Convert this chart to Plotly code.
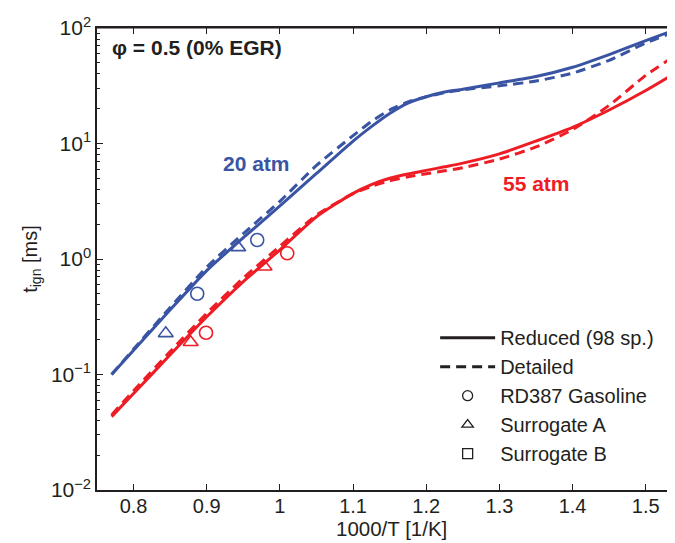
import plotly.graph_objects as go

# 1000/T grid for the model curves
x_grid = [0.77, 0.80, 0.85, 0.90, 0.95, 1.00, 1.05, 1.10, 1.125, 1.15,
          1.175, 1.20, 1.225, 1.25, 1.30, 1.35, 1.40, 1.45, 1.50, 1.54]

# t_ign [ms]
blue_reduced = [0.100, 0.162, 0.363, 0.794, 1.53, 2.88, 5.50, 10.5, 14.0, 18.2,
                22.4, 25.4, 27.9, 29.5, 33.5, 38.0, 45.7, 58.9, 77.6, 96.6]
blue_detailed = [0.100, 0.166, 0.380, 0.851, 1.66, 3.16, 6.46, 11.7, 15.5, 19.5,
                 22.9, 25.4, 27.5, 29.2, 31.6, 34.7, 40.7, 52.5, 74.1, 93.3]
red_reduced = [0.0432, 0.0684, 0.148, 0.316, 0.638, 1.20, 2.32, 3.70, 4.40, 5.00,
               5.45, 5.85, 6.28, 6.76, 8.13, 10.5, 13.8, 19.5, 28.8, 40.7]
red_detailed = [0.0447, 0.0724, 0.158, 0.339, 0.684, 1.29, 2.40, 3.68, 4.25, 4.75,
                5.15, 5.48, 5.80, 6.17, 7.33, 9.33, 13.2, 21.4, 38.9, 57.5]

# experiments
blue_circ_x = [0.887, 0.969]
blue_circ_y = [0.50, 1.46]
blue_tri_x = [0.844, 0.943]
blue_tri_y = [0.227, 1.26]
red_circ_x = [0.899, 1.010]
red_circ_y = [0.23, 1.12]
red_tri_x = [0.878, 0.979]
red_tri_y = [0.19, 0.857]

legend_names = ["Reduced (98 sp.)", "Detailed", "RD387 Gasoline", "Surrogate A", "Surrogate B"]

BLUE = "#3a54a4"
RED = "#ee1d25"
INK = "#231f20"
DASH = "10px,6px"

fig = go.Figure()

for yv, col, dash in [(blue_reduced, BLUE, "solid"), (blue_detailed, BLUE, DASH),
                      (red_reduced, RED, "solid"), (red_detailed, RED, DASH)]:
    fig.add_trace(go.Scatter(x=x_grid, y=yv, mode="lines", showlegend=False,
                             line=dict(color=col, width=3, dash=dash,
                                       shape="spline", smoothing=0.6)))

for xs, ys, col, sym in [(blue_circ_x, blue_circ_y, BLUE, "circle-open"),
                         (blue_tri_x, blue_tri_y, BLUE, "triangle-up-open"),
                         (red_circ_x, red_circ_y, RED, "circle-open"),
                         (red_tri_x, red_tri_y, RED, "triangle-up-open")]:
    fig.add_trace(go.Scatter(x=xs, y=ys, mode="markers", showlegend=False,
                             marker=dict(symbol=sym, size=13, color=col,
                                         line=dict(color=col, width=1.6))))

# legend entries (black)
fig.add_trace(go.Scatter(x=[None], y=[None], mode="lines", name=legend_names[0],
                         line=dict(color=INK, width=3)))
fig.add_trace(go.Scatter(x=[None], y=[None], mode="lines", name=legend_names[1],
                         line=dict(color=INK, width=3, dash=DASH)))
for nm, sym in zip(legend_names[2:], ["circle-open", "triangle-up-open", "square-open"]):
    fig.add_trace(go.Scatter(x=[None], y=[None], mode="markers", name=nm,
                             marker=dict(symbol=sym, size=10, color=INK,
                                         line=dict(color=INK, width=1.3))))

yt = [-2, -1, 0, 1, 2]
# page body has an 8px margin, so the figure is 8px smaller and shifted
fig.update_layout(
    width=667, height=535,
    margin=dict(l=89, r=0, t=20, b=53),
    paper_bgcolor="white", plot_bgcolor="white",
    font=dict(family="Liberation Sans, Arial", size=20, color=INK),
    showlegend=True,
    legend=dict(x=0.585, y=0.372, xanchor="left", yanchor="top",
                bgcolor="rgba(0,0,0,0)", font=dict(size=20),
                itemwidth=55, tracegroupgap=0),
    xaxis=dict(range=[0.75, 1.54], tickvals=[0.8, 0.9, 1.0, 1.1, 1.2, 1.3, 1.4, 1.5],
               ticktext=["0.8", "0.9", "1", "1.1", "1.2", "1.3", "1.4", "1.5"],
               ticks="inside", ticklen=6, tickcolor=INK, showgrid=False,
               zeroline=False, showline=True, linecolor=INK, linewidth=2,
               mirror="ticks", tickfont=dict(size=20), ticklabelstandoff=-3),
    yaxis=dict(type="log", range=[-2, 2], tickvals=[10 ** v for v in yt],
               ticktext=["10<sup>%s</sup>" % str(v).replace("-", "\u2212") for v in yt],
               ticks="inside", ticklen=6, tickcolor=INK, showgrid=False,
               zeroline=False, showline=True, linecolor=INK, linewidth=1.5,
               tickfont=dict(size=21),
               minor=dict(ticks="inside", ticklen=3, tickcolor=INK, dtick="D1",
                          showgrid=False),
               title=dict(text="t<sub>ign</sub> [ms]", font=dict(size=20), standoff=8)),
    annotations=[
        dict(text="1000/T [1/K]", xref="paper", yref="paper", x=0.509, y=-0.084,
             xanchor="center", yanchor="middle", showarrow=False,
             font=dict(size=20.5, color=INK)),
        dict(text="<b>\u03c6 = 0.5 (0% EGR)</b>", xref="paper", yref="paper",
             x=0.022, y=0.957, xanchor="left", yanchor="middle", showarrow=False,
             font=dict(size=21, color=INK)),
        dict(text="<b>20 atm</b>", x=0.968, y=0.83, showarrow=False,
             font=dict(size=21, color=BLUE)),
        dict(text="<b>55 atm</b>", x=1.351, y=0.65, showarrow=False,
             font=dict(size=21, color=RED)),
    ],
)

# thin top frame line
fig.add_shape(type="line", xref="paper", yref="paper", x0=0, x1=1, y0=1, y1=1,
              line=dict(color=INK, width=1))

fig.write_html("out.html")
